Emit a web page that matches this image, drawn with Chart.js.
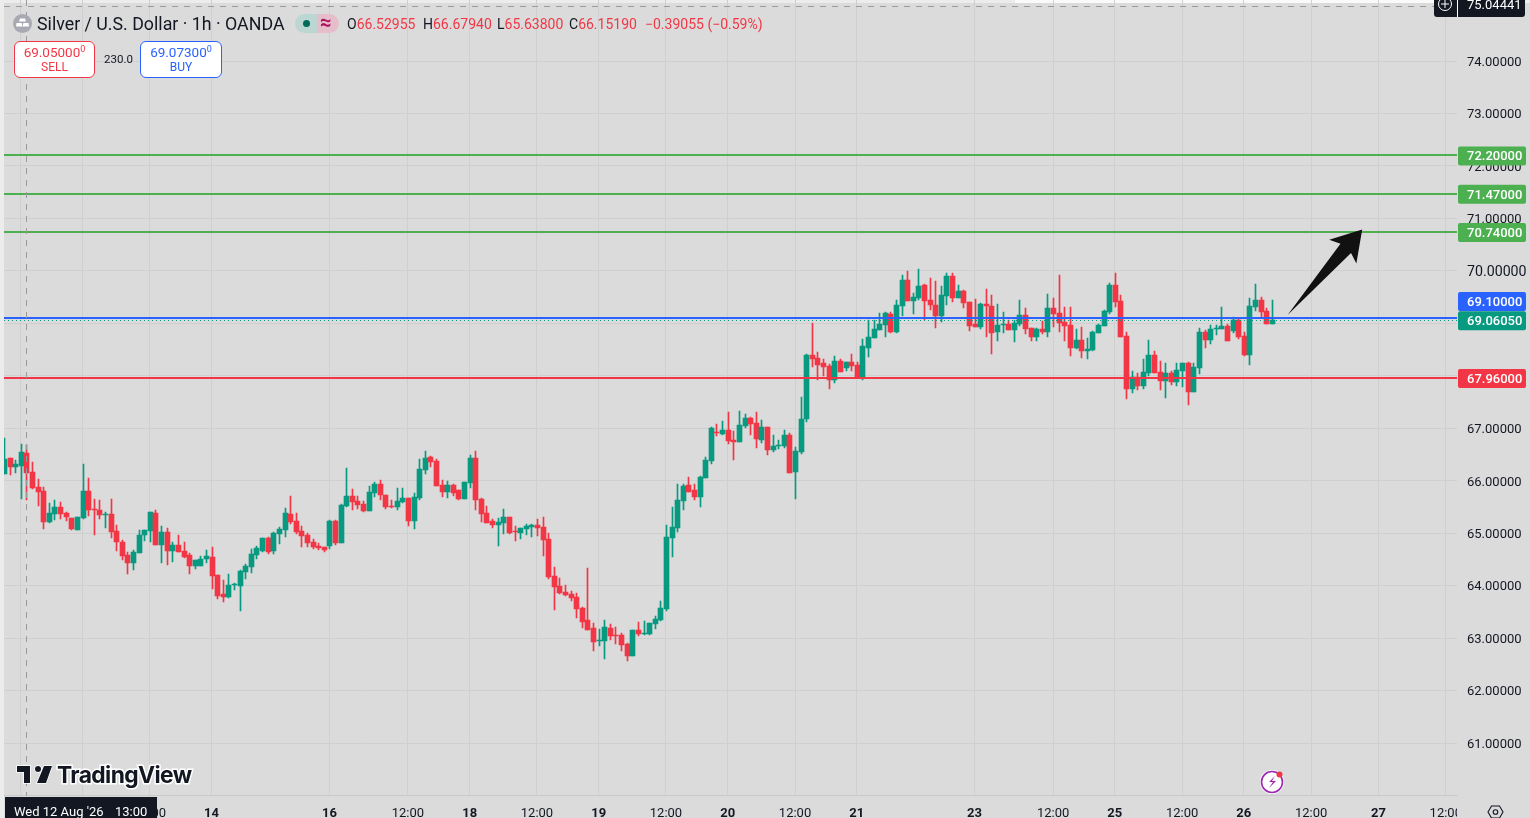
<!DOCTYPE html>
<html>
<head>
<meta charset="utf-8">
<title>Silver / U.S. Dollar</title>
<script src="https://cdn.jsdelivr.net/npm/chart.js@4"></script>
<style>
  html, body { margin: 0; padding: 0; background: #dbdbdb; overflow: hidden; }
  body { width: 1530px; height: 818px; position: relative; font-family: Roboto, sans-serif; color: #131722; }
  canvas { position: absolute; left: 0; top: 0; }
  .abs { position: absolute; white-space: nowrap; }
  .red { color: #f23645; }
  .box { position: absolute; top: 41px; height: 35px; background: #fff; border-radius: 6px; border: 1px solid; text-align: center; font-size: 12px; line-height: 15px; box-sizing: content-box; }
  .box b { display: block; font-weight: 400; font-size: 13.5px; line-height: 16px; padding-top: 2px; }
  .box sup { font-size: 9px; line-height: 0; }
  #logo { left: 57px; top: 761px; font: 700 22.8px "Inter", Roboto, sans-serif; letter-spacing: -0.6px; color: #131722; paint-order: stroke fill; -webkit-text-stroke: 3px #fff; }
</style>
</head>
<body>
<canvas id="chart" width="1530" height="818"></canvas>

<svg class="abs" style="left:13px;top:14px" width="19" height="19" viewBox="0 0 19 19">
  <circle cx="9.5" cy="9.5" r="9.5" fill="#a9a9b4"/>
  <path d="M7 4.5h5l1 3H6zM3.5 9h5.2l.8 3.5H3zM10.3 9h5.2l.5 3.5H9.7z" fill="#fff"/>
</svg>
<div class="abs" style="left:37px;top:13px;font-size:17.8px;line-height:21px">Silver / U.S. Dollar · 1h · OANDA</div>
<div class="abs" style="left:295px;top:14px;width:22px;height:19px;background:#bcd7d1;border-radius:10px 0 0 10px"></div>
<div class="abs" style="left:317px;top:14px;width:22px;height:19px;background:#e6bdcb;border-radius:0 10px 10px 0"></div>
<div class="abs" style="left:303px;top:20px;width:7px;height:7px;background:#006b5b;border-radius:50%"></div>
<div class="abs" style="left:320px;top:12px;font-size:20px;line-height:21px;font-weight:700;color:#b0135e">≈</div>
<div class="abs" style="left:347px;top:15px;font-size:14px;line-height:18px">O<span class="red">66.52955</span></div>
<div class="abs" style="left:423px;top:15px;font-size:14px;line-height:18px">H<span class="red">66.67940</span></div>
<div class="abs" style="left:497px;top:15px;font-size:14px;line-height:18px">L<span class="red">65.63800</span></div>
<div class="abs" style="left:569px;top:15px;font-size:14px;line-height:18px">C<span class="red">66.15190</span></div>
<div class="abs red" style="left:645px;top:15px;font-size:14px;line-height:18px">−0.39055 (−0.59%)</div>

<div class="box" style="left:14px;width:79px;border-color:#f23645;color:#f23645"><b>69.05000<sup>0</sup></b>SELL</div>
<div class="abs" style="left:104px;top:52px;font-size:11.5px;line-height:14px">230.0</div>
<div class="box" style="left:140px;width:80px;border-color:#2962ff;color:#2962ff"><b>69.07300<sup>0</sup></b>BUY</div>

<svg class="abs" style="left:16px;top:764px" width="36" height="22" viewBox="0 0 36 22">
  <path d="M14 2H1v6h7v11h6zM30 19h-9l7-17h8zM22 2a3 3 0 1 1 0 6 3 3 0 0 1 0-6z" fill="#131722" stroke="#fff" stroke-width="1.5" paint-order="stroke"/>
</svg>
<div class="abs" id="logo">TradingView</div>

<svg class="abs" style="left:1259px;top:769px" width="28" height="26" viewBox="0 0 28 26">
  <circle cx="13" cy="13" r="12" fill="#fff"/>
  <circle cx="13" cy="13" r="10.5" fill="none" stroke="#9c27b0" stroke-width="1.6"/>
  <path d="M16 7l-6 6h4l-4 6 7-7h-4z" fill="#9c27b0"/>
  <circle cx="20.5" cy="5.5" r="3" fill="#f23645"/>
</svg>
<svg class="abs" style="left:1487px;top:804px" width="17" height="14" viewBox="0 0 17 14">
  <path d="M4.5 2h8l3.5 6-3.5 6h-8L1 8z" fill="none" stroke="#131722" stroke-width="1.1"/>
  <circle cx="8.5" cy="8" r="2.3" fill="none" stroke="#131722" stroke-width="1.1"/>
</svg>

<script>
const opens = [66.13,66.43,66.26,66.28,66.53,66.17,65.88,65.80,65.21,65.37,65.50,65.38,65.29,65.06,65.29,65.80,65.46,65.44,65.35,65.37,65.04,64.83,64.58,64.43,64.62,64.96,65.04,65.38,64.77,65.02,64.66,64.77,64.66,64.58,64.37,64.37,64.51,64.55,64.20,63.84,63.78,64.01,63.99,64.26,64.36,64.58,
  64.66,64.91,64.66,64.98,65.06,65.37,65.23,65.04,64.96,64.83,64.76,64.74,64.76,65.23,64.81,65.52,65.71,65.61,65.56,65.42,65.76,65.94,65.73,65.52,65.50,65.59,65.67,65.23,65.67,66.20,66.45,66.37,65.92,65.78,65.92,65.82,65.65,65.96,66.43,65.65,65.38,65.23,65.16,65.19,65.31,65.04,65.00,65.08,65.12,65.16,65.12,
  64.89,64.18,63.99,63.88,63.84,63.78,63.57,63.35,63.19,62.95,62.95,63.19,63.06,63.06,62.89,62.66,63.15,63.08,63.08,63.27,63.35,63.56,64.91,65.10,65.61,65.92,65.82,65.69,66.05,66.37,66.93,66.89,66.97,66.78,66.74,67.04,67.20,67.10,66.78,67.02,66.58,66.66,66.66,66.87,66.17,66.55,67.18,
  68.40,68.34,68.24,68.19,67.92,68.28,68.15,68.26,68.21,67.98,68.53,68.72,68.87,68.97,69.18,68.83,69.33,69.83,69.43,69.48,69.73,69.44,69.35,69.14,69.52,69.90,69.48,69.62,69.41,68.99,68.93,69.37,69.33,68.83,68.97,68.99,68.87,68.99,69.16,68.91,68.74,
  68.89,68.83,69.29,69.20,69.02,68.97,68.53,68.68,68.47,68.49,68.81,68.95,69.22,69.73,69.43,68.76,67.75,67.98,67.81,68.05,68.40,68.07,67.90,68.05,67.88,68.09,68.24,67.69,68.15,68.83,68.68,68.89,68.89,68.95,68.85,69.06,68.76,68.40,69.31,69.44,69.23,68.99];
const highs = [66.81,66.44,66.39,66.70,66.68,66.36,66.03,65.88,65.57,65.63,65.59,65.40,65.29,65.31,66.32,66.05,65.65,65.63,65.40,65.65,65.16,64.87,64.64,64.68,65.06,65.06,65.40,65.44,65.14,65.10,64.83,64.96,64.83,64.62,64.49,64.56,64.68,64.74,64.20,64.11,64.22,64.05,64.30,64.41,64.70,64.76,
  64.91,64.93,65.02,65.12,65.48,65.71,65.38,65.14,65.00,64.89,64.81,64.74,65.25,65.25,65.56,66.24,65.84,65.71,65.61,65.90,65.98,66.01,65.73,65.63,65.86,65.86,65.67,65.76,66.41,66.57,66.47,66.41,66.01,65.99,65.94,65.82,65.97,66.49,66.57,65.67,65.52,65.27,65.29,65.46,65.31,65.14,65.10,65.17,65.17,65.27,65.31,
  65.00,64.36,64.15,64.01,63.90,63.86,63.59,64.34,63.29,63.17,63.35,63.27,63.21,63.10,62.91,63.15,63.31,63.33,63.29,63.42,63.71,65.16,65.50,65.94,65.94,66.07,65.94,66.09,66.45,67.02,67.08,67.14,67.31,66.95,67.33,67.27,67.21,67.31,67.16,67.02,66.87,66.78,66.97,66.91,66.64,67.60,68.41,
  69.01,68.45,68.32,68.22,68.38,68.32,68.26,68.42,68.26,68.70,69.06,69.06,69.20,69.22,69.22,69.45,69.92,70.00,69.58,70.04,69.75,69.86,69.81,69.71,69.96,69.96,69.73,69.64,69.41,69.46,69.39,69.65,69.54,69.37,69.22,69.06,69.06,69.44,69.29,68.91,68.91,
  69.04,69.56,69.48,69.92,69.31,69.31,68.89,68.93,68.72,68.85,68.99,69.25,69.77,69.96,69.54,68.83,68.09,68.05,68.32,68.68,68.47,68.28,68.24,68.09,68.24,68.24,68.26,68.24,68.91,68.87,68.97,68.97,69.31,68.99,69.12,69.10,68.83,69.48,69.75,69.50,69.29,69.44];
const lows = [66.13,66.11,66.15,65.65,65.64,65.84,65.52,65.08,65.19,65.25,65.27,65.23,65.06,65.06,65.27,65.33,64.96,65.27,65.10,64.91,64.66,64.49,64.22,64.30,64.62,64.85,64.83,64.77,64.43,64.39,64.45,64.64,64.53,64.22,64.32,64.37,64.43,63.94,63.75,63.69,63.76,63.92,63.52,64.13,64.24,64.51,
  64.64,64.60,64.60,64.79,64.93,65.17,64.98,64.74,64.74,64.70,64.68,64.64,64.70,64.77,64.81,65.50,65.44,65.46,65.40,65.42,65.69,65.63,65.46,65.48,65.44,65.57,65.14,65.08,65.63,66.13,66.26,65.90,65.69,65.67,65.71,65.63,65.65,65.86,65.44,65.21,65.19,65.10,64.76,64.98,64.98,64.85,64.89,64.96,64.93,64.95,64.56,
  64.13,63.54,63.84,63.80,63.71,63.38,63.19,63.15,62.75,62.85,62.60,62.96,62.89,62.75,62.56,62.66,63.04,63.06,63.06,63.17,63.33,63.52,64.55,65.02,65.44,65.78,65.63,65.50,66.05,66.32,66.85,66.87,66.70,66.39,66.74,67.00,66.87,66.62,66.72,66.49,66.55,66.60,66.62,66.15,65.65,66.51,67.12,
  68.17,67.92,68.00,67.75,67.86,68.07,68.09,68.09,67.98,67.92,68.36,68.72,68.87,68.74,68.81,68.81,69.14,69.43,69.18,69.44,69.06,69.25,68.91,69.02,69.35,69.41,69.48,69.29,68.85,68.93,68.89,68.74,68.41,68.66,68.81,68.87,68.64,68.95,68.80,68.66,68.66,
  68.80,68.74,68.93,68.83,68.66,68.38,68.51,68.34,68.32,68.47,68.81,68.95,69.18,69.31,68.74,67.56,67.67,67.73,67.75,67.99,68.05,67.73,67.58,67.82,67.81,67.79,67.44,67.69,68.03,68.53,68.61,68.78,68.89,68.66,68.81,68.70,68.38,68.21,69.23,69.12,68.99,68.99];
const closes = [66.41,66.26,66.32,66.55,66.15,65.86,65.78,65.21,65.38,65.50,65.37,65.31,65.08,65.31,65.80,65.44,65.44,65.35,65.37,65.02,64.83,64.56,64.43,64.64,64.96,65.06,65.40,64.77,65.02,64.66,64.77,64.64,64.55,64.37,64.49,64.51,64.56,64.18,63.80,63.78,64.01,64.03,64.28,64.37,64.60,64.72,
  64.91,64.64,65.00,65.08,65.38,65.21,65.02,64.95,64.81,64.74,64.72,64.68,65.23,64.81,65.54,65.71,65.59,65.54,65.42,65.78,65.94,65.73,65.50,65.50,65.61,65.67,65.23,65.69,66.22,66.43,66.36,65.90,65.78,65.92,65.76,65.65,65.97,66.43,65.63,65.37,65.19,65.16,65.21,65.31,65.00,65.02,65.10,65.14,65.16,65.10,64.87,
  64.16,63.97,63.86,63.82,63.76,63.56,63.31,63.15,62.93,62.96,63.21,63.04,63.04,62.87,62.66,63.15,63.08,63.10,63.29,63.36,63.57,64.93,65.12,65.63,65.90,65.78,65.69,66.07,66.39,67.00,66.91,66.97,66.76,66.74,67.06,67.20,67.08,66.79,67.02,66.58,66.66,66.68,66.87,66.15,66.57,67.18,68.40,
  68.32,68.21,68.17,67.92,68.28,68.07,68.26,68.19,67.98,68.57,68.74,68.89,68.99,69.20,68.83,69.35,69.83,69.43,69.50,69.71,69.43,69.35,69.14,69.54,69.90,69.48,69.62,69.39,68.95,68.93,69.37,69.33,68.81,68.97,68.99,68.87,69.01,69.16,68.89,68.74,68.89,
  68.83,69.29,69.18,69.01,68.95,68.53,68.68,68.47,68.51,68.83,68.97,69.23,69.73,69.41,68.74,67.75,67.98,67.81,68.07,68.40,68.05,67.90,68.05,67.88,68.11,68.24,67.69,68.17,68.83,68.68,68.89,68.91,68.95,68.66,69.06,68.74,68.40,69.33,69.44,69.22,68.99,69.06];

const priceTicks = [61,62,63,64,65,66,67,68,69,70,71,72,73,74];
const timeTickBars = [3,14,26,37,58,72,83,95,106,118,129,141,152,173,187,198,210,221,233,245,257];
const timeTickLabels = ['12:00','13','12:00','14','16','12:00','18','12:00','19','12:00','20','12:00','21','23','12:00','25','12:00','26','12:00','27','12:00'];

const levelValues = [72.20, 71.47, 70.74, 69.10, 67.96];
const levelColors = ['#4caf50','#4caf50','#4caf50','#2962ff','#f23645'];
const levelTagShift = [0, 0, 0, -17, 0];
const lastClose = 69.0605;
const crosshairBar = 4;
const crosshairPrice = 75.04441;
const arrowFrom = { bar: 228.8, price: 69.16 };
const arrowTo = { bar: 242.1, price: 70.79 };

const UP = '#089981', DOWN = '#f23645';
const barColor = ctx => closes[ctx.dataIndex] >= opens[ctx.dataIndex] ? UP : DOWN;
const bodies = opens.map((o, i) => ({ x: i, y: [o, closes[i]] }));
const wicks = lows.map((l, i) => ({ x: i, y: [l, highs[i]] }));

// no overhang padding from tick labels, the plot has to fill the whole frame
const noPadding = axis => { axis.paddingLeft = axis.paddingRight = axis.paddingTop = axis.paddingBottom = 0; };

const tag = (ctx, text, y, color, width) => {
  ctx.fillStyle = color;
  ctx.beginPath();
  ctx.roundRect(1458, y - 9.5, width, 19, 2);
  ctx.fill();
  ctx.fillStyle = '#fff';
  ctx.font = '500 13px Roboto, sans-serif';
  ctx.textAlign = 'left';
  ctx.textBaseline = 'middle';
  ctx.fillText(text, 1467, y + 1);
};

const overlay = {
  id: 'overlay',
  // Roboto sits high on a middle baseline, push the price labels down a bit
  afterLayout(chart) {
    const yScale = chart.scales.y;
    if (yScale.shifted) return;
    yScale.shifted = true;
    const drawLabels = yScale.drawLabels.bind(yScale);
    yScale.drawLabels = area => {
      chart.ctx.save();
      chart.ctx.translate(0, 1.5);
      drawLabels(area);
      chart.ctx.restore();
    };
  },
  // snap candles to whole pixels so wicks stay sharp
  afterDatasetsUpdate(chart) {
    chart.data.datasets.forEach((ds, d) => {
      chart.getDatasetMeta(d).data.forEach(el => {
        el.x = Math.round(el.x) + 0.5;
        el.y = Math.round(el.y);
        el.base = Math.round(el.base);
        if (el.y === el.base) el.base += 1;
        el.height = el.base - el.y;
      });
    });
  },
  beforeDraw(chart) {
    const ctx = chart.ctx;
    ctx.save();
    ctx.fillStyle = '#dbdbdb';
    ctx.fillRect(0, 0, 1530, 818);
    ctx.fillStyle = '#ececec';
    ctx.fillRect(0, 0, 4, 818);
    ctx.fillRect(0, 0, 1530, 3);
    ctx.fillStyle = '#fafafa';
    ctx.fillRect(1015, 0, 440, 3);
    ctx.restore();
  },
  afterDatasetsDraw(chart) {
    const { ctx, chartArea: a, scales: { x, y } } = chart;
    ctx.save();
    // levels
    levelValues.forEach((v, i) => {
      const py = Math.round(y.getPixelForValue(v));
      ctx.strokeStyle = levelColors[i];
      ctx.lineWidth = 2;
      ctx.beginPath();
      ctx.moveTo(a.left, py);
      ctx.lineTo(a.right, py);
      ctx.stroke();
    });
    ctx.strokeStyle = UP;
    ctx.lineWidth = 1;
    ctx.setLineDash([1, 3]);
    ctx.beginPath();
    ctx.moveTo(a.left, Math.round(y.getPixelForValue(lastClose)) + 0.5);
    ctx.lineTo(a.right, Math.round(y.getPixelForValue(lastClose)) + 0.5);
    ctx.stroke();
    // crosshair
    ctx.strokeStyle = '#9a9a9a';
    ctx.setLineDash([6, 6]);
    ctx.beginPath();
    ctx.moveTo(Math.round(x.getPixelForValue(crosshairBar)) + 0.5, a.top);
    ctx.lineTo(Math.round(x.getPixelForValue(crosshairBar)) + 0.5, a.bottom);
    ctx.moveTo(a.left, Math.round(y.getPixelForValue(crosshairPrice)) + 0.5);
    ctx.lineTo(a.right, Math.round(y.getPixelForValue(crosshairPrice)) + 0.5);
    ctx.stroke();
    ctx.setLineDash([]);
    // arrow
    const tx = x.getPixelForValue(arrowFrom.bar), ty = y.getPixelForValue(arrowFrom.price);
    const hx = x.getPixelForValue(arrowTo.bar), hy = y.getPixelForValue(arrowTo.price);
    const len = Math.hypot(hx - tx, hy - ty);
    const ux = (hx - tx) / len, uy = (hy - ty) / len, nx = -uy, ny = ux;
    const at = (along, perp) => [hx + ux * along + nx * perp, hy + uy * along + ny * perp];
    const pts = [[tx, ty], at(-25, -7), at(-29.5, -18), [hx, hy], at(-29.5, 18), at(-25, 7)];
    ctx.fillStyle = '#111';
    ctx.beginPath();
    pts.forEach((p, i) => i ? ctx.lineTo(p[0], p[1]) : ctx.moveTo(p[0], p[1]));
    ctx.closePath();
    ctx.fill();
    ctx.restore();
  },
  afterDraw(chart) {
    const { ctx, chartArea: a, scales: { y } } = chart;
    ctx.save();
    // right-bottom corner hides the clipped tick label
    ctx.fillStyle = '#dbdbdb';
    ctx.fillRect(a.right, a.bottom, 1530 - a.right, 818 - a.bottom);
    // price tags
    levelValues.forEach((v, i) => {
      tag(ctx, v.toFixed(5), y.getPixelForValue(v) + levelTagShift[i] + 0.5, levelColors[i], 68);
    });
    tag(ctx, lastClose.toFixed(5), y.getPixelForValue(lastClose) + 0.5, UP, 68);
    // crosshair labels
    ctx.fillStyle = '#131722';
    ctx.beginPath();
    ctx.roundRect(1434, -4, 91, 21, 3);
    ctx.fill();
    ctx.strokeStyle = '#fff';
    ctx.lineWidth = 1;
    ctx.beginPath();
    ctx.arc(1445, 4, 6.5, 0, Math.PI * 2);
    ctx.moveTo(1445, 0); ctx.lineTo(1445, 8);
    ctx.moveTo(1441, 4); ctx.lineTo(1449, 4);
    ctx.moveTo(1457.5, -2); ctx.lineTo(1457.5, 17);
    ctx.stroke();
    ctx.fillStyle = '#fff';
    ctx.font = '13px Roboto, sans-serif';
    ctx.textBaseline = 'middle';
    ctx.textAlign = 'left';
    ctx.fillText(crosshairPrice.toFixed(5), 1467, 6);
    ctx.fillStyle = '#131722';
    ctx.fillRect(5, 797, 152, 21);
    ctx.fillStyle = '#fff';
    ctx.fillText("Wed 12 Aug '26", 14, 813);
    ctx.fillText('13:00', 115, 813);
    ctx.restore();
  }
};

new Chart(document.getElementById('chart'), {
  type: 'bar',
  data: {
    datasets: [
      { data: bodies, backgroundColor: barColor, barThickness: 5, order: 1 },
      { data: wicks, backgroundColor: barColor, barThickness: 1, order: 2 }
    ]
  },
  options: {
    responsive: false,
    animation: false,
    devicePixelRatio: 1,
    grouped: false,
    layout: { padding: { left: 4, right: 0, top: 0, bottom: 0 } },
    plugins: { legend: { display: false }, tooltip: { enabled: false } },
    scales: {
      x: {
        type: 'linear',
        offset: false,
        min: 0,
        max: 259,
        afterBuildTicks: axis => { axis.ticks = timeTickBars.map(value => ({ value })); },
        afterFit: axis => { axis.height = 22.4; noPadding(axis); },
        grid: { color: '#cfcfcf', drawTicks: false, offset: false },
        border: { color: '#c9c9c9' },
        ticks: {
          autoSkip: false,
          maxRotation: 0,
          padding: 10,
          color: '#131722',
          font: ctx => ({ family: 'Roboto, sans-serif', size: 13, weight: ctx.tick && /^\d+$/.test(timeTickLabels[timeTickBars.indexOf(ctx.tick.value)]) ? 700 : 400 }),
          callback: value => timeTickLabels[timeTickBars.indexOf(value)]
        }
      },
      y: {
        position: 'right',
        min: 60,
        max: 75.163,
        afterBuildTicks: axis => { axis.ticks = priceTicks.map(value => ({ value })); },
        afterFit: axis => { axis.width = 73; noPadding(axis); },
        grid: { color: '#cfcfcf', drawTicks: false },
        border: { display: false },
        ticks: {
          padding: 10,
          color: '#131722',
          font: ctx => ({ family: 'Roboto, sans-serif', size: ctx.tick && ctx.tick.value === 70 ? 14.2 : 13 }),
          callback: value => value.toFixed(5)
        }
      }
    }
  },
  plugins: [overlay]
});
</script>
</body>
</html>
